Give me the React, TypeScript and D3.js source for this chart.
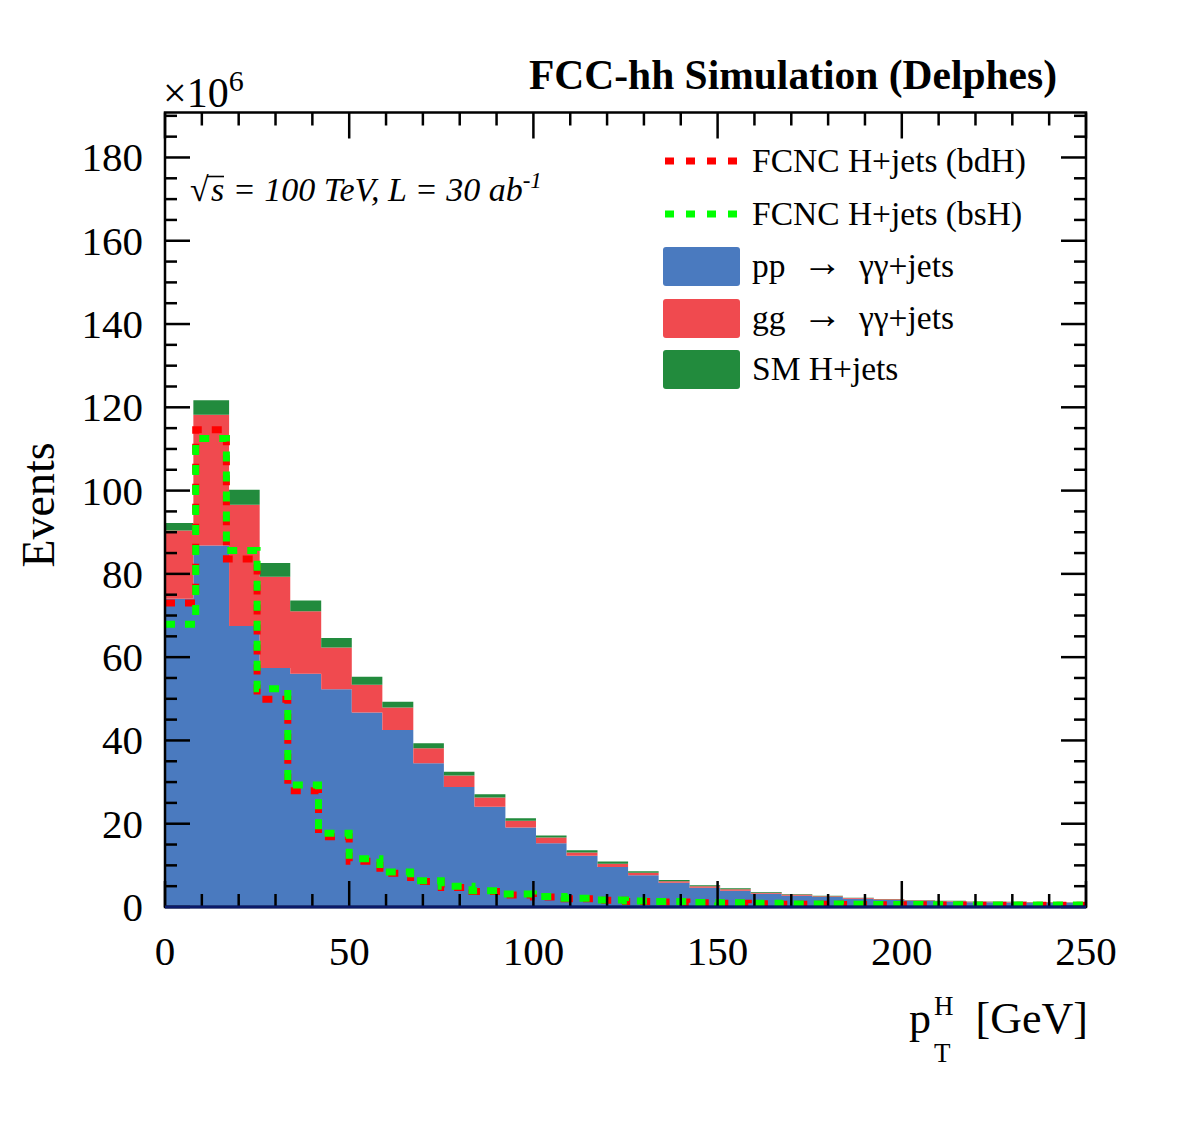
import { useEffect } from 'react';
import * as d3 from 'd3';

// stacked backgrounds (x10^6 events per bin)
const stackEdges = [0, 7.7, 17.4, 25.7, 34.0, 42.4, 50.7, 59.0, 67.4, 75.7, 84.0, 92.4, 100.7, 109.0, 117.4,
  125.7, 134.0, 142.4, 150.7, 159.0, 167.4, 175.7, 184.0, 192.4, 200.7, 209.0, 217.4, 225.7, 234.0, 242.4, 250];
const ppGammaGamma = [74.0, 86.8, 67.5, 57.4, 56.0, 52.3, 46.7, 42.5, 34.5, 28.8, 24.1, 19.1, 15.3, 12.3, 9.6,
  7.6, 5.8, 4.6, 3.9, 3.2, 2.7, 2.4, 2.0, 1.7, 1.5, 1.35, 1.15, 1.1, 1.05, 1.0];
const ggGammaGamma = [16.4, 31.4, 29.1, 21.9, 15.0, 10.0, 6.7, 5.4, 3.6, 2.8, 2.2, 1.6, 1.4, 0.8, 0.8,
  0.6, 0.4, 0.4, 0.35, 0.2, 0.3, 0.2, 0.15, 0.15, 0.15, 0.1, 0.1, 0.1, 0.1, 0.1];
const smHiggs = [1.8, 3.5, 3.6, 3.3, 2.6, 2.3, 1.9, 1.4, 1.2, 0.9, 0.8, 0.6, 0.5, 0.5, 0.5,
  0.4, 0.3, 0.2, 0.25, 0.2, 0.1, 0.1, 0.05, 0.05, 0.05, 0.05, 0.05, 0.05, 0.05, 0.05];

// FCNC signals, 30 bins over 0-250 GeV
const sigEdges = d3.range(31).map(i => (i * 250) / 30);
const fcncBdH = [73.0, 114.6, 83.6, 49.9, 27.9, 16.9, 11.0, 8.1, 6.1, 4.7, 3.7, 2.9, 2.4, 2.0, 1.6,
  1.35, 1.2, 1.0, 0.9, 0.8, 0.65, 0.65, 0.6, 0.55, 0.55, 0.5, 0.45, 0.45, 0.45, 0.45];
const fcncBsH = [67.9, 112.5, 85.6, 52.4, 29.3, 17.7, 11.6, 8.4, 6.3, 5.0, 3.9, 3.1, 2.5, 2.1, 1.7,
  1.45, 1.3, 1.1, 1.0, 0.9, 0.7, 0.7, 0.65, 0.6, 0.6, 0.55, 0.5, 0.5, 0.5, 0.5];

const yTicks = [0, 20, 40, 60, 80, 100, 120, 140, 160, 180];
const xTicks = [0, 50, 100, 150, 200, 250];

const BLUE = '#4a7abf';
const RED = '#f04a4f';
const GREEN = '#228b3d';
const FONT = '"Liberation Serif", "Times New Roman", serif';

const W = 1182;
const H = 1134;
const L = 165, R = 1086, T = 112.5, B = 907;

export default function App() {
  useEffect(() => {
    document.body.style.margin = '0';
  }, []);

  const x = d3.scaleLinear().domain([0, 250]).range([L, R]);
  const y = d3.scaleLinear().domain([0, 190.8]).range([B, T]);

  type Pt = { e: number; lo: number; hi: number };
  const stepPts = (edges: number[], lo: number[], hi: number[]): Pt[] => {
    const pts = lo.map((v, i) => ({ e: edges[i], lo: v, hi: hi[i] }));
    pts.push({ e: edges[edges.length - 1], lo: lo[lo.length - 1], hi: hi[hi.length - 1] });
    return pts;
  };
  const area = d3.area<Pt>()
    .x(d => x(d.e))
    .y0(d => y(d.lo))
    .y1(d => y(d.hi))
    .curve(d3.curveStepAfter);

  const zeros = ppGammaGamma.map(() => 0);
  const top1 = ppGammaGamma;
  const top2 = top1.map((v, i) => v + ggGammaGamma[i]);
  const top3 = top2.map((v, i) => v + smHiggs[i]);
  const layers = [
    { lo: zeros, hi: top1, color: BLUE },
    { lo: top1, hi: top2, color: RED },
    { lo: top2, hi: top3, color: GREEN },
  ];

  const line = d3.line<[number, number]>()
    .x(d => x(d[0]))
    .y(d => y(d[1]))
    .curve(d3.curveStepAfter);
  const sigPath = (vals: number[]) => {
    const pts: [number, number][] = vals.map((v, i) => [sigEdges[i], v]);
    pts.push([250, vals[vals.length - 1]]);
    return line(pts) || '';
  };

  const yMinor = d3.range(0, 191, 5);
  const xMinor = d3.range(0, 251, 10);

  return (
    <svg width={W} height={H} style={{ display: 'block', background: '#fff' }} fontFamily={FONT}>
      <defs>
        <clipPath id="frame">
          <rect x={L} y={T} width={R - L} height={B - T} />
        </clipPath>
      </defs>

      <g clipPath="url(#frame)">
        {layers.map((ly, i) => (
          <path key={i} d={area(stepPts(stackEdges, ly.lo, ly.hi)) || ''} fill={ly.color} />
        ))}
        <path d={sigPath(fcncBdH)} fill="none" stroke="#ff0000" strokeWidth={7} strokeDasharray="10 10" />
        <path d={sigPath(fcncBsH)} fill="none" stroke="#00ff00" strokeWidth={7} strokeDasharray="10 10" />
      </g>

      {/* frame and ticks */}
      <g stroke="#000" strokeWidth={2.5}>
        {yMinor.map(v => {
          const len = v % 20 === 0 ? 25 : 12;
          return (
            <g key={'y' + v}>
              <line x1={L} x2={L + len} y1={y(v)} y2={y(v)} />
              <line x1={R} x2={R - len} y1={y(v)} y2={y(v)} />
            </g>
          );
        })}
        {xMinor.map(v => {
          const len = v % 50 === 0 ? 26 : 13;
          return (
            <g key={'x' + v}>
              <line x1={x(v)} x2={x(v)} y1={B} y2={B - len} />
              <line x1={x(v)} x2={x(v)} y1={T} y2={T + len} />
            </g>
          );
        })}
        <rect x={L} y={T} width={R - L} height={B - T} fill="none" />
      </g>
      <line x1={L} x2={R} y1={B} y2={B} stroke="#0a1a6a" strokeWidth={3} />

      {/* tick labels */}
      <g fontSize={41} fill="#000">
        {yTicks.map(v => (
          <text key={v} x={143} y={y(v) + 14} textAnchor="end">{v}</text>
        ))}
        {xTicks.map(v => (
          <text key={v} x={x(v)} y={965} textAnchor="middle">{v}</text>
        ))}
      </g>

      <text x={163} y={107} fontSize={42}>
        ×10<tspan dy={-16} fontSize={30}>6</tspan>
      </text>

      <text transform="translate(54,505) rotate(-90)" textAnchor="middle" fontSize={46}>Events</text>

      <text y={1033} fontSize={44}>
        <tspan x={909}>p</tspan>
        <tspan x={934} y={1015} fontSize={27}>H</tspan>
        <tspan x={934} y={1062} fontSize={27}>T</tspan>
        <tspan x={1088} y={1033} textAnchor="end">[GeV]</tspan>
      </text>

      <text x={1057} y={89} textAnchor="end" fontSize={41.5} fontWeight="bold">FCC-hh Simulation (Delphes)</text>

      {/* sqrt(s) with a hand-drawn radical bar */}
      <text x={190} y={201} fontSize={34}>√</text>
      <line x1={207} x2={224} y1={176.5} y2={176.5} stroke="#000" strokeWidth={1.6} />
      <text x={211} y={201} fontSize={34} fontStyle="italic">
        s = 100 TeV, L = 30 ab<tspan dy={-13} fontSize={23}>-1</tspan>
      </text>

      {/* legend */}
      <g fontSize={33.5}>
        <line x1={665} x2={737} y1={161} y2={161} stroke="#ff0000" strokeWidth={7} strokeDasharray="9 12" />
        <text x={752} y={172}>FCNC H+jets (bdH)</text>
        <line x1={665} x2={737} y1={214} y2={214} stroke="#00ff00" strokeWidth={7} strokeDasharray="9 12" />
        <text x={752} y={225}>FCNC H+jets (bsH)</text>
        <rect x={663} y={247} width={77} height={39} rx={3} fill={BLUE} />
        <text x={752} y={277} style={{ whiteSpace: 'pre' }}>
          pp  <tspan fontSize={40} dy={-1}>→</tspan><tspan dy={1}>  γγ+jets</tspan>
        </text>
        <rect x={663} y={299} width={77} height={39} rx={3} fill={RED} />
        <text x={752} y={329} style={{ whiteSpace: 'pre' }}>
          gg  <tspan fontSize={40} dy={-1}>→</tspan><tspan dy={1}>  γγ+jets</tspan>
        </text>
        <rect x={663} y={350} width={77} height={39} rx={3} fill={GREEN} />
        <text x={752} y={380}>SM H+jets</text>
      </g>
    </svg>
  );
}
